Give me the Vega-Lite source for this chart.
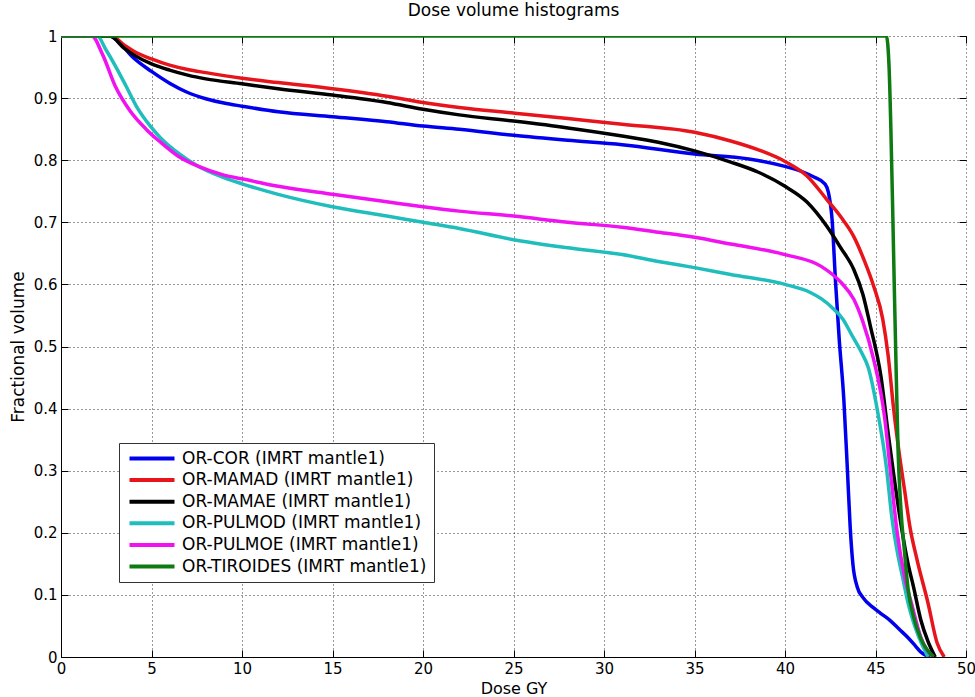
{
  "$schema": "https://vega.github.io/schema/vega-lite/v6.json",
  "width": 905,
  "height": 621,
  "autosize": {"type": "none"},
  "padding": {"left": 61, "top": 36, "right": 9, "bottom": 40},
  "background": "white",
  "title": {"text": "Dose volume histograms", "font": "DejaVu Sans", "fontSize": 17, "fontWeight": "normal", "color": "black", "offset": 9, "anchor": "middle"},
  "config": {
    "view": {"stroke": null},
    "axis": {"labelFont": "DejaVu Sans", "labelFontSize": 15, "labelColor": "black", "titleFont": "DejaVu Sans", "titleFontSize": 16, "titleFontWeight": "normal", "titleColor": "black", "tickColor": "black", "domainColor": "black", "gridColor": "black", "gridDash": [1, 3], "gridOpacity": 0.8, "tickSize": -7, "labelPadding": 11}
  },
  "data": {"values": [
    {"s": "OR-COR (IMRT mantle1)", "x": 0, "y": 1},
    {"s": "OR-COR (IMRT mantle1)", "x": 2.7, "y": 1},
    {"s": "OR-COR (IMRT mantle1)", "x": 3.2, "y": 0.99},
    {"s": "OR-COR (IMRT mantle1)", "x": 4, "y": 0.965},
    {"s": "OR-COR (IMRT mantle1)", "x": 5, "y": 0.943},
    {"s": "OR-COR (IMRT mantle1)", "x": 6, "y": 0.924},
    {"s": "OR-COR (IMRT mantle1)", "x": 7, "y": 0.909},
    {"s": "OR-COR (IMRT mantle1)", "x": 8, "y": 0.899},
    {"s": "OR-COR (IMRT mantle1)", "x": 9, "y": 0.892},
    {"s": "OR-COR (IMRT mantle1)", "x": 10, "y": 0.887},
    {"s": "OR-COR (IMRT mantle1)", "x": 12, "y": 0.878},
    {"s": "OR-COR (IMRT mantle1)", "x": 15, "y": 0.87},
    {"s": "OR-COR (IMRT mantle1)", "x": 18, "y": 0.862},
    {"s": "OR-COR (IMRT mantle1)", "x": 20, "y": 0.855},
    {"s": "OR-COR (IMRT mantle1)", "x": 22, "y": 0.85},
    {"s": "OR-COR (IMRT mantle1)", "x": 25, "y": 0.84},
    {"s": "OR-COR (IMRT mantle1)", "x": 28, "y": 0.832},
    {"s": "OR-COR (IMRT mantle1)", "x": 31, "y": 0.825},
    {"s": "OR-COR (IMRT mantle1)", "x": 35, "y": 0.81},
    {"s": "OR-COR (IMRT mantle1)", "x": 38, "y": 0.802},
    {"s": "OR-COR (IMRT mantle1)", "x": 40, "y": 0.79},
    {"s": "OR-COR (IMRT mantle1)", "x": 41, "y": 0.781},
    {"s": "OR-COR (IMRT mantle1)", "x": 41.6, "y": 0.773},
    {"s": "OR-COR (IMRT mantle1)", "x": 42.2, "y": 0.762},
    {"s": "OR-COR (IMRT mantle1)", "x": 42.4, "y": 0.748},
    {"s": "OR-COR (IMRT mantle1)", "x": 42.6, "y": 0.705},
    {"s": "OR-COR (IMRT mantle1)", "x": 42.8, "y": 0.6},
    {"s": "OR-COR (IMRT mantle1)", "x": 43.0, "y": 0.51},
    {"s": "OR-COR (IMRT mantle1)", "x": 43.25, "y": 0.415},
    {"s": "OR-COR (IMRT mantle1)", "x": 43.45, "y": 0.3},
    {"s": "OR-COR (IMRT mantle1)", "x": 43.6, "y": 0.21},
    {"s": "OR-COR (IMRT mantle1)", "x": 43.75, "y": 0.15},
    {"s": "OR-COR (IMRT mantle1)", "x": 44.0, "y": 0.112},
    {"s": "OR-COR (IMRT mantle1)", "x": 44.3, "y": 0.096},
    {"s": "OR-COR (IMRT mantle1)", "x": 44.9, "y": 0.079},
    {"s": "OR-COR (IMRT mantle1)", "x": 45.3, "y": 0.07},
    {"s": "OR-COR (IMRT mantle1)", "x": 45.8, "y": 0.059},
    {"s": "OR-COR (IMRT mantle1)", "x": 46.3, "y": 0.045},
    {"s": "OR-COR (IMRT mantle1)", "x": 46.8, "y": 0.031},
    {"s": "OR-COR (IMRT mantle1)", "x": 47.2, "y": 0.018},
    {"s": "OR-COR (IMRT mantle1)", "x": 47.5, "y": 0.008},
    {"s": "OR-COR (IMRT mantle1)", "x": 48.0, "y": 0},

    {"s": "OR-MAMAD (IMRT mantle1)", "x": 0, "y": 1},
    {"s": "OR-MAMAD (IMRT mantle1)", "x": 2.8, "y": 1},
    {"s": "OR-MAMAD (IMRT mantle1)", "x": 3.5, "y": 0.985},
    {"s": "OR-MAMAD (IMRT mantle1)", "x": 4, "y": 0.976},
    {"s": "OR-MAMAD (IMRT mantle1)", "x": 5, "y": 0.963},
    {"s": "OR-MAMAD (IMRT mantle1)", "x": 6, "y": 0.953},
    {"s": "OR-MAMAD (IMRT mantle1)", "x": 7, "y": 0.946},
    {"s": "OR-MAMAD (IMRT mantle1)", "x": 8, "y": 0.941},
    {"s": "OR-MAMAD (IMRT mantle1)", "x": 10, "y": 0.932},
    {"s": "OR-MAMAD (IMRT mantle1)", "x": 12, "y": 0.925},
    {"s": "OR-MAMAD (IMRT mantle1)", "x": 15, "y": 0.915},
    {"s": "OR-MAMAD (IMRT mantle1)", "x": 18, "y": 0.903},
    {"s": "OR-MAMAD (IMRT mantle1)", "x": 20, "y": 0.893},
    {"s": "OR-MAMAD (IMRT mantle1)", "x": 22, "y": 0.885},
    {"s": "OR-MAMAD (IMRT mantle1)", "x": 25, "y": 0.876},
    {"s": "OR-MAMAD (IMRT mantle1)", "x": 28, "y": 0.867},
    {"s": "OR-MAMAD (IMRT mantle1)", "x": 31, "y": 0.858},
    {"s": "OR-MAMAD (IMRT mantle1)", "x": 35, "y": 0.845},
    {"s": "OR-MAMAD (IMRT mantle1)", "x": 37, "y": 0.831},
    {"s": "OR-MAMAD (IMRT mantle1)", "x": 38.5, "y": 0.817},
    {"s": "OR-MAMAD (IMRT mantle1)", "x": 40, "y": 0.798},
    {"s": "OR-MAMAD (IMRT mantle1)", "x": 41.2, "y": 0.775},
    {"s": "OR-MAMAD (IMRT mantle1)", "x": 42.3, "y": 0.737},
    {"s": "OR-MAMAD (IMRT mantle1)", "x": 43.1, "y": 0.708},
    {"s": "OR-MAMAD (IMRT mantle1)", "x": 43.8, "y": 0.677},
    {"s": "OR-MAMAD (IMRT mantle1)", "x": 44.4, "y": 0.637},
    {"s": "OR-MAMAD (IMRT mantle1)", "x": 44.9, "y": 0.597},
    {"s": "OR-MAMAD (IMRT mantle1)", "x": 45.4, "y": 0.544},
    {"s": "OR-MAMAD (IMRT mantle1)", "x": 45.7, "y": 0.485},
    {"s": "OR-MAMAD (IMRT mantle1)", "x": 46.0, "y": 0.4},
    {"s": "OR-MAMAD (IMRT mantle1)", "x": 46.3, "y": 0.33},
    {"s": "OR-MAMAD (IMRT mantle1)", "x": 46.6, "y": 0.27},
    {"s": "OR-MAMAD (IMRT mantle1)", "x": 46.9, "y": 0.21},
    {"s": "OR-MAMAD (IMRT mantle1)", "x": 47.3, "y": 0.156},
    {"s": "OR-MAMAD (IMRT mantle1)", "x": 47.9, "y": 0.087},
    {"s": "OR-MAMAD (IMRT mantle1)", "x": 48.4, "y": 0.023},
    {"s": "OR-MAMAD (IMRT mantle1)", "x": 48.8, "y": 0},

    {"s": "OR-MAMAE (IMRT mantle1)", "x": 0, "y": 1},
    {"s": "OR-MAMAE (IMRT mantle1)", "x": 2.7, "y": 1},
    {"s": "OR-MAMAE (IMRT mantle1)", "x": 3.5, "y": 0.98},
    {"s": "OR-MAMAE (IMRT mantle1)", "x": 4, "y": 0.97},
    {"s": "OR-MAMAE (IMRT mantle1)", "x": 5, "y": 0.955},
    {"s": "OR-MAMAE (IMRT mantle1)", "x": 6, "y": 0.945},
    {"s": "OR-MAMAE (IMRT mantle1)", "x": 7, "y": 0.937},
    {"s": "OR-MAMAE (IMRT mantle1)", "x": 8, "y": 0.931},
    {"s": "OR-MAMAE (IMRT mantle1)", "x": 10, "y": 0.923},
    {"s": "OR-MAMAE (IMRT mantle1)", "x": 12, "y": 0.915},
    {"s": "OR-MAMAE (IMRT mantle1)", "x": 15, "y": 0.905},
    {"s": "OR-MAMAE (IMRT mantle1)", "x": 18, "y": 0.893},
    {"s": "OR-MAMAE (IMRT mantle1)", "x": 20, "y": 0.882},
    {"s": "OR-MAMAE (IMRT mantle1)", "x": 22, "y": 0.873},
    {"s": "OR-MAMAE (IMRT mantle1)", "x": 25, "y": 0.863},
    {"s": "OR-MAMAE (IMRT mantle1)", "x": 28, "y": 0.852},
    {"s": "OR-MAMAE (IMRT mantle1)", "x": 31, "y": 0.839},
    {"s": "OR-MAMAE (IMRT mantle1)", "x": 33, "y": 0.829},
    {"s": "OR-MAMAE (IMRT mantle1)", "x": 35, "y": 0.815},
    {"s": "OR-MAMAE (IMRT mantle1)", "x": 37, "y": 0.797},
    {"s": "OR-MAMAE (IMRT mantle1)", "x": 38.5, "y": 0.781},
    {"s": "OR-MAMAE (IMRT mantle1)", "x": 40, "y": 0.758},
    {"s": "OR-MAMAE (IMRT mantle1)", "x": 41.2, "y": 0.733},
    {"s": "OR-MAMAE (IMRT mantle1)", "x": 42.3, "y": 0.694},
    {"s": "OR-MAMAE (IMRT mantle1)", "x": 43.1, "y": 0.658},
    {"s": "OR-MAMAE (IMRT mantle1)", "x": 43.8, "y": 0.624},
    {"s": "OR-MAMAE (IMRT mantle1)", "x": 44.3, "y": 0.584},
    {"s": "OR-MAMAE (IMRT mantle1)", "x": 44.7, "y": 0.535},
    {"s": "OR-MAMAE (IMRT mantle1)", "x": 45.3, "y": 0.452},
    {"s": "OR-MAMAE (IMRT mantle1)", "x": 45.7, "y": 0.36},
    {"s": "OR-MAMAE (IMRT mantle1)", "x": 46.0, "y": 0.295},
    {"s": "OR-MAMAE (IMRT mantle1)", "x": 46.4, "y": 0.215},
    {"s": "OR-MAMAE (IMRT mantle1)", "x": 46.8, "y": 0.15},
    {"s": "OR-MAMAE (IMRT mantle1)", "x": 47.1, "y": 0.113},
    {"s": "OR-MAMAE (IMRT mantle1)", "x": 47.5, "y": 0.06},
    {"s": "OR-MAMAE (IMRT mantle1)", "x": 47.9, "y": 0.025},
    {"s": "OR-MAMAE (IMRT mantle1)", "x": 48.3, "y": 0},

    {"s": "OR-PULMOD (IMRT mantle1)", "x": 0, "y": 1},
    {"s": "OR-PULMOD (IMRT mantle1)", "x": 2.0, "y": 1},
    {"s": "OR-PULMOD (IMRT mantle1)", "x": 2.5, "y": 0.977},
    {"s": "OR-PULMOD (IMRT mantle1)", "x": 3, "y": 0.952},
    {"s": "OR-PULMOD (IMRT mantle1)", "x": 3.6, "y": 0.919},
    {"s": "OR-PULMOD (IMRT mantle1)", "x": 4.2, "y": 0.885},
    {"s": "OR-PULMOD (IMRT mantle1)", "x": 4.9, "y": 0.856},
    {"s": "OR-PULMOD (IMRT mantle1)", "x": 5.5, "y": 0.836},
    {"s": "OR-PULMOD (IMRT mantle1)", "x": 6.5, "y": 0.811},
    {"s": "OR-PULMOD (IMRT mantle1)", "x": 7.6, "y": 0.79},
    {"s": "OR-PULMOD (IMRT mantle1)", "x": 9, "y": 0.772},
    {"s": "OR-PULMOD (IMRT mantle1)", "x": 10, "y": 0.762},
    {"s": "OR-PULMOD (IMRT mantle1)", "x": 12, "y": 0.745},
    {"s": "OR-PULMOD (IMRT mantle1)", "x": 15, "y": 0.725},
    {"s": "OR-PULMOD (IMRT mantle1)", "x": 18, "y": 0.71},
    {"s": "OR-PULMOD (IMRT mantle1)", "x": 20, "y": 0.7},
    {"s": "OR-PULMOD (IMRT mantle1)", "x": 22, "y": 0.69},
    {"s": "OR-PULMOD (IMRT mantle1)", "x": 25, "y": 0.672},
    {"s": "OR-PULMOD (IMRT mantle1)", "x": 28, "y": 0.659},
    {"s": "OR-PULMOD (IMRT mantle1)", "x": 31, "y": 0.648},
    {"s": "OR-PULMOD (IMRT mantle1)", "x": 33, "y": 0.637},
    {"s": "OR-PULMOD (IMRT mantle1)", "x": 35, "y": 0.627},
    {"s": "OR-PULMOD (IMRT mantle1)", "x": 37, "y": 0.616},
    {"s": "OR-PULMOD (IMRT mantle1)", "x": 40, "y": 0.6},
    {"s": "OR-PULMOD (IMRT mantle1)", "x": 41.4, "y": 0.587},
    {"s": "OR-PULMOD (IMRT mantle1)", "x": 42.0, "y": 0.577},
    {"s": "OR-PULMOD (IMRT mantle1)", "x": 42.7, "y": 0.56},
    {"s": "OR-PULMOD (IMRT mantle1)", "x": 43.2, "y": 0.544},
    {"s": "OR-PULMOD (IMRT mantle1)", "x": 43.7, "y": 0.518},
    {"s": "OR-PULMOD (IMRT mantle1)", "x": 44.2, "y": 0.492},
    {"s": "OR-PULMOD (IMRT mantle1)", "x": 44.6, "y": 0.466},
    {"s": "OR-PULMOD (IMRT mantle1)", "x": 45.1, "y": 0.398},
    {"s": "OR-PULMOD (IMRT mantle1)", "x": 45.6, "y": 0.306},
    {"s": "OR-PULMOD (IMRT mantle1)", "x": 45.9, "y": 0.226},
    {"s": "OR-PULMOD (IMRT mantle1)", "x": 46.2, "y": 0.17},
    {"s": "OR-PULMOD (IMRT mantle1)", "x": 46.5, "y": 0.128},
    {"s": "OR-PULMOD (IMRT mantle1)", "x": 46.8, "y": 0.087},
    {"s": "OR-PULMOD (IMRT mantle1)", "x": 47.3, "y": 0.039},
    {"s": "OR-PULMOD (IMRT mantle1)", "x": 47.9, "y": 0},

    {"s": "OR-PULMOE (IMRT mantle1)", "x": 0, "y": 1},
    {"s": "OR-PULMOE (IMRT mantle1)", "x": 1.7, "y": 1},
    {"s": "OR-PULMOE (IMRT mantle1)", "x": 2.3, "y": 0.97},
    {"s": "OR-PULMOE (IMRT mantle1)", "x": 3.0, "y": 0.919},
    {"s": "OR-PULMOE (IMRT mantle1)", "x": 3.8, "y": 0.88},
    {"s": "OR-PULMOE (IMRT mantle1)", "x": 4.7, "y": 0.85},
    {"s": "OR-PULMOE (IMRT mantle1)", "x": 5.5, "y": 0.829},
    {"s": "OR-PULMOE (IMRT mantle1)", "x": 6.5, "y": 0.806},
    {"s": "OR-PULMOE (IMRT mantle1)", "x": 7.6, "y": 0.79},
    {"s": "OR-PULMOE (IMRT mantle1)", "x": 9, "y": 0.776},
    {"s": "OR-PULMOE (IMRT mantle1)", "x": 10, "y": 0.77},
    {"s": "OR-PULMOE (IMRT mantle1)", "x": 12, "y": 0.758},
    {"s": "OR-PULMOE (IMRT mantle1)", "x": 15, "y": 0.745},
    {"s": "OR-PULMOE (IMRT mantle1)", "x": 18, "y": 0.733},
    {"s": "OR-PULMOE (IMRT mantle1)", "x": 20, "y": 0.725},
    {"s": "OR-PULMOE (IMRT mantle1)", "x": 22, "y": 0.718},
    {"s": "OR-PULMOE (IMRT mantle1)", "x": 25, "y": 0.71},
    {"s": "OR-PULMOE (IMRT mantle1)", "x": 28, "y": 0.7},
    {"s": "OR-PULMOE (IMRT mantle1)", "x": 31, "y": 0.692},
    {"s": "OR-PULMOE (IMRT mantle1)", "x": 33, "y": 0.684},
    {"s": "OR-PULMOE (IMRT mantle1)", "x": 35, "y": 0.676},
    {"s": "OR-PULMOE (IMRT mantle1)", "x": 37, "y": 0.665},
    {"s": "OR-PULMOE (IMRT mantle1)", "x": 40, "y": 0.648},
    {"s": "OR-PULMOE (IMRT mantle1)", "x": 42.0, "y": 0.629},
    {"s": "OR-PULMOE (IMRT mantle1)", "x": 43.1, "y": 0.603},
    {"s": "OR-PULMOE (IMRT mantle1)", "x": 43.8, "y": 0.576},
    {"s": "OR-PULMOE (IMRT mantle1)", "x": 44.3, "y": 0.54},
    {"s": "OR-PULMOE (IMRT mantle1)", "x": 44.9, "y": 0.479},
    {"s": "OR-PULMOE (IMRT mantle1)", "x": 45.5, "y": 0.387},
    {"s": "OR-PULMOE (IMRT mantle1)", "x": 45.8, "y": 0.306},
    {"s": "OR-PULMOE (IMRT mantle1)", "x": 46.2, "y": 0.2},
    {"s": "OR-PULMOE (IMRT mantle1)", "x": 46.6, "y": 0.13},
    {"s": "OR-PULMOE (IMRT mantle1)", "x": 47.0, "y": 0.085},
    {"s": "OR-PULMOE (IMRT mantle1)", "x": 47.5, "y": 0.032},
    {"s": "OR-PULMOE (IMRT mantle1)", "x": 48.2, "y": 0},

    {"s": "OR-TIROIDES (IMRT mantle1)", "x": 0, "y": 1},
    {"s": "OR-TIROIDES (IMRT mantle1)", "x": 45.6, "y": 1},
    {"s": "OR-TIROIDES (IMRT mantle1)", "x": 45.75, "y": 0.95},
    {"s": "OR-TIROIDES (IMRT mantle1)", "x": 45.85, "y": 0.85},
    {"s": "OR-TIROIDES (IMRT mantle1)", "x": 45.95, "y": 0.72},
    {"s": "OR-TIROIDES (IMRT mantle1)", "x": 46.05, "y": 0.58},
    {"s": "OR-TIROIDES (IMRT mantle1)", "x": 46.15, "y": 0.45},
    {"s": "OR-TIROIDES (IMRT mantle1)", "x": 46.25, "y": 0.33},
    {"s": "OR-TIROIDES (IMRT mantle1)", "x": 46.4, "y": 0.24},
    {"s": "OR-TIROIDES (IMRT mantle1)", "x": 46.6, "y": 0.17},
    {"s": "OR-TIROIDES (IMRT mantle1)", "x": 46.8, "y": 0.11},
    {"s": "OR-TIROIDES (IMRT mantle1)", "x": 47.1, "y": 0.065},
    {"s": "OR-TIROIDES (IMRT mantle1)", "x": 47.5, "y": 0.03},
    {"s": "OR-TIROIDES (IMRT mantle1)", "x": 48.2, "y": 0}
  ]},
  "layer": [
    {
      "mark": {"type": "line", "strokeWidth": 3.5, "interpolate": "monotone", "clip": true},
      "encoding": {
        "x": {"field": "x", "type": "quantitative", "scale": {"domain": [0, 50], "nice": false, "zero": false},
              "axis": {"orient": "bottom", "title": "Dose GY", "values": [0,5,10,15,20,25,30,35,40,45,50], "grid": true, "domain": true, "titlePadding": 4, "labelFlush": false}},
        "y": {"field": "y", "type": "quantitative", "scale": {"domain": [0, 1], "nice": false},
              "axis": {"orient": "left", "title": "Fractional volume", "titleFontSize": 17, "values": [0,0.1,0.2,0.3,0.4,0.5,0.6,0.7,0.8,0.9,1], "format": ".1~f", "grid": true, "domain": true, "titlePadding": 6, "labelFlush": false}},
        "color": {"field": "s", "type": "nominal",
                  "scale": {"domain": ["OR-COR (IMRT mantle1)", "OR-MAMAD (IMRT mantle1)", "OR-MAMAE (IMRT mantle1)", "OR-PULMOD (IMRT mantle1)", "OR-PULMOE (IMRT mantle1)", "OR-TIROIDES (IMRT mantle1)"],
                            "range": ["#0000ee", "#e8141b", "#000000", "#20bdbd", "#f012f0", "#0e7a12"]},
                  "legend": {"orient": "none", "legendX": 58, "legendY": 407, "title": null, "strokeColor": "#333333", "fillColor": "white", "padding": 7,
                             "symbolType": "M-1,0L8,0", "symbolSize": 100, "symbolStrokeWidth": 4, "symbolFillColor": "transparent", "labelFont": "DejaVu Sans", "labelFontSize": 17, "labelColor": "black", "labelOffset": 39, "rowPadding": 3.6, "labelLimit": 400}}
      }
    },
    {
      "mark": {"type": "line", "opacity": 0},
      "encoding": {
        "x": {"field": "x", "type": "quantitative", "axis": {"orient": "top", "title": null, "labels": false, "grid": false, "domain": false, "values": [0,5,10,15,20,25,30,35,40,45,50]}},
        "y": {"field": "y", "type": "quantitative", "axis": {"orient": "right", "title": null, "labels": false, "grid": false, "domain": false, "values": [0,0.1,0.2,0.3,0.4,0.5,0.6,0.7,0.8,0.9,1]}}
      }
    }
  ],
  "resolve": {"axis": {"x": "independent", "y": "independent"}}
}
